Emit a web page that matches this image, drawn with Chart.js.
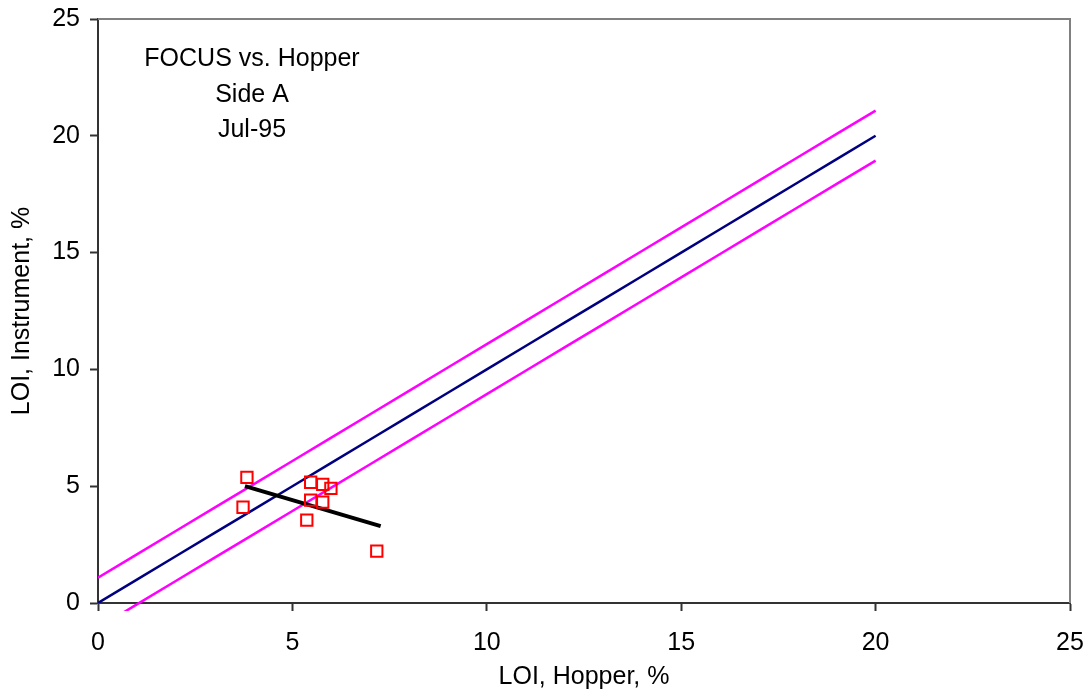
<!DOCTYPE html>
<html>
<head>
<meta charset="utf-8">
<script src="https://cdn.jsdelivr.net/npm/chart.js@4.4.1/dist/chart.umd.min.js"></script>
<style>
  html, body { margin: 0; padding: 0; background: #ffffff; }
  #wrap { width: 1091px; height: 696px; }
</style>
</head>
<body>
<div id="wrap"><canvas id="c" width="1091" height="696"></canvas></div>
<script>
// ---- Data ----
const titleLines = ["FOCUS vs. Hopper", "Side A", "Jul-95"];
const xTitle = "LOI, Hopper, %";
const yTitle = "LOI, Instrument, %";

const lineX     = [0, 1, 2, 3, 4, 5, 6, 7, 8, 9, 10, 11, 12, 13, 14, 15, 16, 17, 18, 19, 20];
const idealY    = [0, 1, 2, 3, 4, 5, 6, 7, 8, 9, 10, 11, 12, 13, 14, 15, 16, 17, 18, 19, 20];
const upperY    = [1.08, 2.08, 3.08, 4.08, 5.08, 6.08, 7.08, 8.08, 9.08, 10.08, 11.08, 12.08, 13.08, 14.08, 15.08, 16.08, 17.08, 18.08, 19.08, 20.08, 21.08];
const lowerY    = [-1.06, -0.06, 0.94, 1.94, 2.94, 3.94, 4.94, 5.94, 6.94, 7.94, 8.94, 9.94, 10.94, 11.94, 12.94, 13.94, 14.94, 15.94, 16.94, 17.94, 18.94];

const hopperX     = [3.83, 3.73, 5.47, 5.78, 5.99, 5.47, 5.78, 5.37, 7.17];
const instrumentY = [5.38, 4.10, 5.17, 5.08, 4.91, 4.40, 4.32, 3.55, 2.22];

const trendX = [3.78, 7.27];
const trendY = [5.00, 3.29];

const xTicks = [0, 5, 10, 15, 20, 25];
const yTicks = [0, 5, 10, 15, 20, 25];

// ---- Build datasets ----
const pts = (xs, ys) => xs.map((x, i) => ({ x: x, y: ys[i] }));

const FONT = "'Liberation Sans', Arial, sans-serif";
const FS = 25;

const annotationPlugin = {
  id: 'annot',
  afterDraw(chart) {
    const { ctx, chartArea } = chart;
    ctx.save();
    // top and right frame of the plot area
    ctx.strokeStyle = '#808080';
    ctx.lineWidth = 2;
    ctx.beginPath();
    ctx.moveTo(chartArea.left, chartArea.top);
    ctx.lineTo(chartArea.right, chartArea.top);
    ctx.lineTo(chartArea.right, chartArea.bottom);
    ctx.stroke();
    // text block
    ctx.fillStyle = '#000000';
    ctx.font = FS + 'px ' + FONT;
    ctx.textAlign = 'center';
    ctx.textBaseline = 'middle';
    const cx = 252;
    const ys = [59, 95, 130];
    titleLines.forEach((t, i) => ctx.fillText(t, cx, ys[i]));
    ctx.restore();
  }
};

new Chart(document.getElementById('c'), {
  type: 'scatter',
  data: {
    datasets: [
      {
        label: 'Data',
        data: pts(hopperX, instrumentY),
        showLine: false,
        pointStyle: 'rect',
        pointRadius: 8,
        pointHoverRadius: 8,
        pointBorderColor: '#ff0000',
        pointBackgroundColor: 'rgba(255,255,255,0)',
        pointBorderWidth: 2
      },
      {
        label: 'Trend',
        data: pts(trendX, trendY),
        showLine: true,
        borderColor: '#000000',
        borderWidth: 4,
        pointRadius: 0,
        tension: 0
      },
      {
        label: 'Ideal',
        data: pts(lineX, idealY),
        showLine: true,
        borderColor: '#000080',
        borderWidth: 2.5,
        pointRadius: 0,
        tension: 0
      },
      {
        label: 'Upper',
        data: pts(lineX, upperY),
        showLine: true,
        borderColor: '#ff00ff',
        borderWidth: 2.5,
        pointRadius: 0,
        tension: 0
      },
      {
        label: 'Lower',
        data: pts(lineX, lowerY),
        showLine: true,
        borderColor: '#ff00ff',
        borderWidth: 2.5,
        pointRadius: 0,
        tension: 0,
        clip: { left: 0, top: 0, right: 0, bottom: 8 }
      }
    ]
  },
  options: {
    responsive: false,
    animation: false,
    devicePixelRatio: 1,
    layout: { padding: { left: 0, top: 19, right: 21, bottom: 0 } },
    plugins: {
      legend: { display: false },
      tooltip: { enabled: false },
      title: { display: false }
    },
    scales: {
      x: {
        type: 'linear',
        min: 0, max: 25,
        afterBuildTicks: (s) => { s.ticks = xTicks.map(v => ({ value: v })); },
        afterFit: (s) => { s.height = 93; s.paddingLeft = 0; s.paddingRight = 0; },
        border: { display: true, color: '#333333', width: 2 },
        grid: { drawOnChartArea: false, drawTicks: true, tickLength: 8, tickColor: '#333333', tickWidth: 2 },
        ticks: { color: '#000000', font: { family: FONT, size: FS }, padding: 17, maxRotation: 0 },
        title: { display: true, text: xTitle, color: '#000000', font: { family: FONT, size: FS }, padding: { top: 0, bottom: 4 } }
      },
      y: {
        type: 'linear',
        min: 0, max: 25,
        afterBuildTicks: (s) => { s.ticks = yTicks.map(v => ({ value: v })); },
        afterFit: (s) => { s.width = 98; s.paddingTop = 0; s.paddingBottom = 0; },
        border: { display: true, color: '#333333', width: 2 },
        grid: { drawOnChartArea: false, drawTicks: true, tickLength: 8, tickColor: '#333333', tickWidth: 2 },
        ticks: { color: '#000000', font: { family: FONT, size: FS }, padding: 10 },
        title: { display: true, text: yTitle, color: '#000000', font: { family: FONT, size: FS }, padding: { top: 7, bottom: 0 } }
      }
    }
  },
  plugins: [annotationPlugin]
});
</script>
</body>
</html>
